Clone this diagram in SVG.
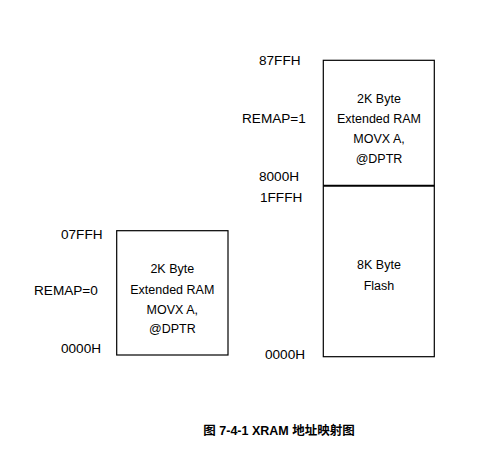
<svg xmlns="http://www.w3.org/2000/svg" width="499" height="466" viewBox="0 0 499 466">
<style>
.box{fill:#fff;stroke:#000;stroke-width:1.2}
.t{font-family:"Liberation Sans",Arial,sans-serif;font-size:12.5px;fill:#000}
.l{font-size:13.6px}
.c{text-anchor:middle}
.cap{font-family:"Liberation Sans","Noto Sans CJK SC",sans-serif;font-size:12.5px;font-weight:bold;fill:#000;text-anchor:middle}
</style>
<rect width="499" height="466" fill="#fff"/>
<g id="remap0">
<rect class="box" x="116.7" y="230.7" width="111.3" height="124.3"/>
<text class="t l" x="61" y="239">07FFH</text>
<text class="t l" x="34" y="295.3">REMAP=0</text>
<text class="t l" x="61" y="353.3">0000H</text>
<text class="t c" x="172.3" y="273.3">2K Byte</text>
<text class="t c" x="172.3" y="293.8">Extended RAM</text>
<text class="t c" x="172.3" y="313.8">MOVX A,</text>
<text class="t c" x="172.3" y="333.3">@DPTR</text>
</g>
<g id="remap1">
<rect class="box" x="323.3" y="60.3" width="111" height="296.4"/>
<text class="t l" x="259" y="65">87FFH</text>
<text class="t l" x="242" y="123">REMAP=1</text>
<text class="t l" x="259" y="180.5">8000H</text>
<text class="t l" x="260" y="201.5">1FFFH</text>
<text class="t l" x="265" y="359">0000H</text>
<text class="t c" x="379" y="103">2K Byte</text>
<text class="t c" x="379" y="122.7">Extended RAM</text>
<text class="t c" x="379" y="142.7">MOVX A,</text>
<text class="t c" x="379" y="163">@DPTR</text>
<text class="t c" x="379" y="269">8K Byte</text>
<text class="t c" x="379" y="290">Flash</text>
</g>
<g id="connectors">
<line x1="323.3" y1="185.7" x2="434.3" y2="185.7" stroke="#000" stroke-width="2"/>
</g>
<text class="cap" x="279" y="434.5">图 7-4-1 XRAM 地址映射图</text>
</svg>
